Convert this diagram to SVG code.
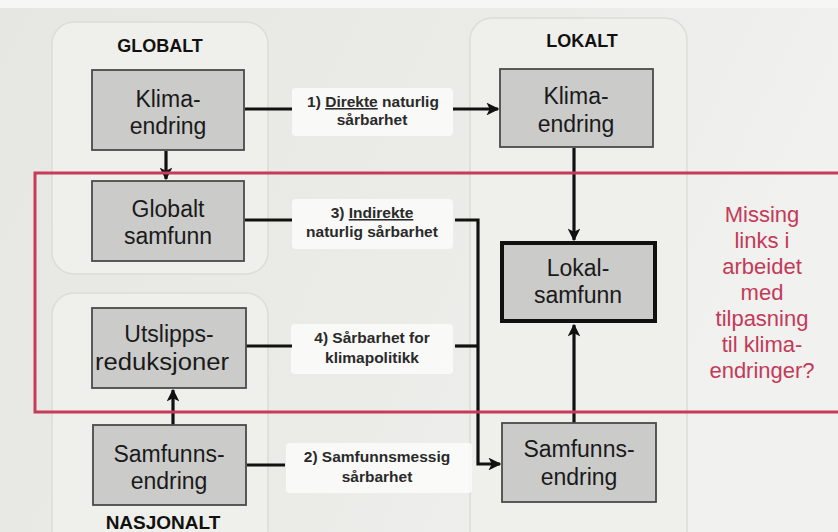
<svg xmlns="http://www.w3.org/2000/svg" width="838" height="532" viewBox="0 0 838 532">
<defs>
<marker id="ah" viewBox="0 0 10 10" refX="9" refY="5" markerWidth="4" markerHeight="4" markerUnits="strokeWidth" orient="auto">
<path d="M0,0 L10,5 L0,10 L2.5,5 z" fill="#111"/>
</marker>
<linearGradient id="bg" x1="0" y1="0" x2="1" y2="0.3">
<stop offset="0" stop-color="#e6e6e2"/>
<stop offset="0.6" stop-color="#ebebe8"/>
<stop offset="1" stop-color="#f1f1ef"/>
</linearGradient>
</defs>
<style>
.panel{fill:#efefeb;stroke:#dddcd6;stroke-width:1.5}
.node{fill:#cbcbca;stroke:#4a4a4a;stroke-width:1.8}
.nodeb{fill:#cbcbca;stroke:#111;stroke-width:4}
.nt{font-family:"Liberation Sans",Arial,sans-serif;font-size:23px;fill:#1a1a1a;text-anchor:middle}
.hd{font-family:"Liberation Sans",Arial,sans-serif;font-size:18px;font-weight:bold;fill:#111;text-anchor:middle}
.lb{fill:#fbfbfa;opacity:0.9}
.lt{font-family:"Liberation Sans",Arial,sans-serif;font-size:15.5px;font-weight:bold;fill:#2a2a2a;text-anchor:middle}
.c{fill:none;stroke:#111;stroke-width:3.2}
.red{fill:none;stroke:#c73a59;stroke-width:3}
.rt{font-family:"Liberation Sans",Arial,sans-serif;font-size:22px;fill:#c33a58;text-anchor:middle}
</style>
<rect x="0" y="0" width="838" height="532" fill="url(#bg)"/>
<rect x="0" y="0" width="838" height="8" fill="#f6f6f5"/>
<g id="panels">
<rect class="panel" x="52" y="22" width="216" height="252" rx="22"/>
<rect class="panel" x="52" y="293" width="216" height="260" rx="22"/>
<rect class="panel" x="470" y="18" width="217" height="540" rx="22"/>
</g>
<g id="headers">
<text class="hd" x="160" y="52">GLOBALT</text>
<text class="hd" x="582" y="47">LOKALT</text>
<text class="hd" x="163" y="529" style="font-size:19px">NASJONALT</text>
</g>
<g id="labelboxes">
<rect class="lb" x="292" y="88" width="161" height="48" rx="4"/>
<rect class="lb" x="292" y="199" width="161" height="50" rx="4"/>
<rect class="lb" x="291" y="324" width="162" height="50" rx="4"/>
<rect class="lb" x="286" y="443" width="186" height="50" rx="4"/>
</g>
<g id="connectors">
<line class="c" x1="245" y1="109" x2="292" y2="109"/>
<line class="c" x1="453" y1="109" x2="498" y2="109" marker-end="url(#ah)"/>
<line class="c" x1="166" y1="151" x2="166" y2="179" marker-end="url(#ah)"/>
<line class="c" x1="574" y1="148" x2="574" y2="240" marker-end="url(#ah)"/>
<line class="c" x1="245" y1="220" x2="292" y2="220"/>
<polyline class="c" points="455,220 478,220 478,464 500,464" marker-end="url(#ah)"/>
<line class="c" x1="246" y1="346" x2="292" y2="346"/>
<line class="c" x1="455" y1="346" x2="478" y2="346"/>
<line class="c" x1="247" y1="465" x2="285" y2="465"/>
<line class="c" x1="173" y1="425" x2="173" y2="390" marker-end="url(#ah)"/>
<line class="c" x1="574" y1="423" x2="574" y2="325" marker-end="url(#ah)"/>
</g>
<g id="labels">
<text class="lt" x="373" y="107">1) <tspan text-decoration="underline">Direkte</tspan> naturlig</text>
<text class="lt" x="372" y="125">sårbarhet</text>
<text class="lt" x="372" y="218">3) <tspan text-decoration="underline">Indirekte</tspan></text>
<text class="lt" x="372" y="237">naturlig sårbarhet</text>
<text class="lt" x="372" y="343">4) Sårbarhet for</text>
<text class="lt" x="372" y="363">klimapolitikk</text>
<text class="lt" x="377" y="462">2) Samfunnsmessig</text>
<text class="lt" x="377" y="482">sårbarhet</text>
</g>
<g id="global-klima">
<rect class="node" x="92" y="70" width="152" height="80"/>
<text class="nt" x="168" y="107">Klima-</text>
<text class="nt" x="168" y="134">endring</text>
</g>
<g id="globalt-samfunn">
<rect class="node" x="92" y="181" width="152" height="80"/>
<text class="nt" x="168" y="217">Globalt</text>
<text class="nt" x="168" y="244">samfunn</text>
</g>
<g id="utslipp">
<rect class="node" x="92" y="308" width="154" height="80"/>
<text class="nt" x="169" y="342">Utslipps-</text>
<text class="nt" x="162" y="370" textLength="134" lengthAdjust="spacingAndGlyphs">reduksjoner</text>
</g>
<g id="nasjonal-samfunnsendring">
<rect class="node" x="93" y="425" width="153" height="80"/>
<text class="nt" x="169" y="462">Samfunns-</text>
<text class="nt" x="169" y="489">endring</text>
</g>
<g id="lokal-klima">
<rect class="node" x="500" y="69" width="153" height="78"/>
<text class="nt" x="576" y="104">Klima-</text>
<text class="nt" x="576" y="132">endring</text>
</g>
<g id="lokalsamfunn">
<rect class="nodeb" x="502" y="243" width="153" height="78"/>
<text class="nt" x="578" y="276">Lokal-</text>
<text class="nt" x="578" y="303">samfunn</text>
</g>
<g id="lokal-samfunnsendring">
<rect class="node" x="502" y="423" width="154" height="79"/>
<text class="nt" x="579" y="457">Samfunns-</text>
<text class="nt" x="579" y="485">endring</text>
</g>
<g id="missing-links">
<rect class="red" x="35" y="173" width="820" height="239"/>
<text class="rt" x="762" y="222">Missing</text>
<text class="rt" x="762" y="248">links i</text>
<text class="rt" x="762" y="274">arbeidet</text>
<text class="rt" x="762" y="300">med</text>
<text class="rt" x="762" y="326">tilpasning</text>
<text class="rt" x="762" y="352">til klima-</text>
<text class="rt" x="762" y="378">endringer?</text>
</g>
</svg>
